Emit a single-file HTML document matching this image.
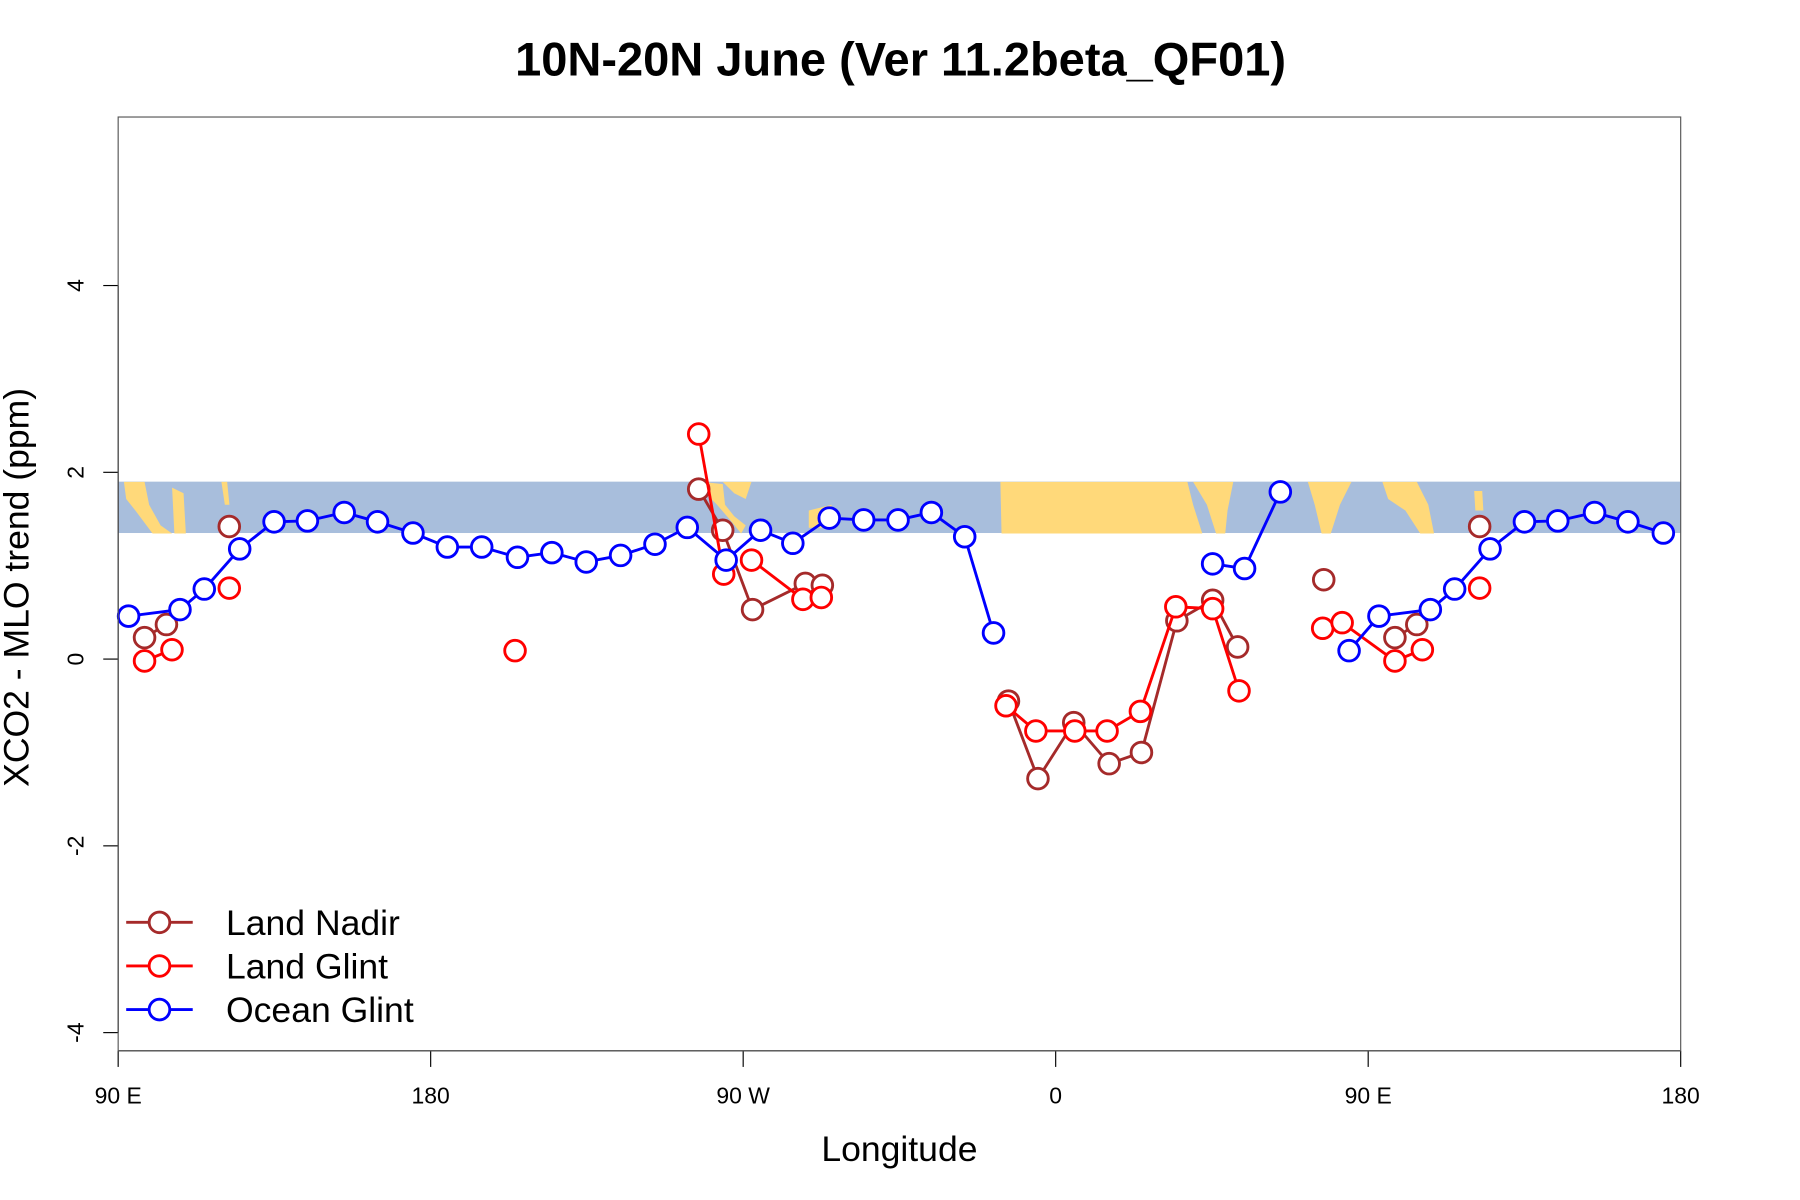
<!DOCTYPE html>
<html><head><meta charset="utf-8"><style>
html,body{margin:0;padding:0;background:#fff;}
svg{display:block;font-family:"Liberation Sans",sans-serif;}
</style></head><body>
<svg id="chart" width="1800" height="1200" viewBox="0 0 1569 1046" preserveAspectRatio="none" xmlns="http://www.w3.org/2000/svg">
<rect width="1569" height="1046" fill="#fff"/>
<text x="785" y="66" font-size="41" font-weight="bold" text-anchor="middle">10N-20N June (Ver 11.2beta_QF01)</text>
<g id="band"></g>
<g id="axes"></g>
<g id="series"></g>
<rect x="103" y="102" width="1362" height="814" fill="none" stroke="#555" stroke-width="1"/>
<text x="784" y="1012" font-size="31" text-anchor="middle">Longitude</text>
<text transform="translate(25,512) rotate(-90)" font-size="31" text-anchor="middle">XCO2 - MLO trend (ppm)</text>
<g>
<g><line x1="110" x2="168" y1="804" y2="804" stroke="#a52a2a" stroke-width="2.5"/><circle cx="139" cy="804" r="9" fill="#fff" stroke="#a52a2a" stroke-width="2.5"/><text x="197" y="815" font-size="31">Land Nadir</text></g>
<g><line x1="110" x2="168" y1="842" y2="842" stroke="#ff0000" stroke-width="2.5"/><circle cx="139" cy="842" r="9" fill="#fff" stroke="#ff0000" stroke-width="2.5"/><text x="197" y="853" font-size="31">Land Glint</text></g>
<g><line x1="110" x2="168" y1="880" y2="880" stroke="#0000ff" stroke-width="2.5"/><circle cx="139" cy="880" r="9" fill="#fff" stroke="#0000ff" stroke-width="2.5"/><text x="197" y="891" font-size="31">Ocean Glint</text></g>
</g>
</svg>
<script>
const xTicks = [90, 180, 270, 360, 450, 540];
const xTickLabels = ["90 E", "180", "90 W", "0", "90 E", "180"];
const yTicks = [-4, -2, 0, 2, 4];
const yTickLabels = ["-4", "-2", "0", "2", "4"];
const oceanLon = [93.0,107.8,114.8,125.0,134.9,144.5,155.1,164.7,174.9,184.8,194.7,205.0,214.9,224.8,234.7,244.6,253.9,265.1,275.0,284.3,294.8,304.7,314.6,324.2,333.8,342.1,null,405.2,414.4,424.7,null,444.5,453.1,467.9,474.9,485.1,495.0,504.6,515.2,524.8,535.0];
const oceanVal = [0.46,0.53,0.75,1.18,1.47,1.48,1.57,1.47,1.35,1.20,1.20,1.09,1.14,1.04,1.11,1.23,1.41,1.06,1.38,1.24,1.51,1.49,1.49,1.57,1.31,0.28,null,1.02,0.97,1.79,null,0.09,0.46,0.53,0.75,1.18,1.47,1.48,1.57,1.47,1.35];
const nadirLon = [97.6,103.9,null,122.0,null,257.2,264.1,272.7,287.9,292.8,null,346.4,354.9,365.2,375.4,384.7,394.9,405.2,412.4,null,437.2,null,457.7,464.0,null,482.1];
const nadirVal = [0.23,0.37,null,1.42,null,1.82,1.38,0.53,0.81,0.79,null,-0.45,-1.28,-0.68,-1.12,-1.0,0.41,0.63,0.13,null,0.85,null,0.23,0.37,null,1.42];
const glintLon = [97.6,105.5,null,122.0,null,204.3,null,257.2,264.4,null,272.4,287.2,292.5,null,345.7,354.3,365.5,374.8,384.4,394.6,405.2,412.8,null,436.9,442.5,457.7,465.6,null,482.1];
const glintVal = [-0.02,0.10,null,0.76,null,0.09,null,2.41,0.91,null,1.06,0.64,0.66,null,-0.5,-0.77,-0.77,-0.77,-0.56,0.56,0.54,-0.34,null,0.33,0.39,-0.02,0.10,null,0.76];

const NS = "http://www.w3.org/2000/svg";
const X = v => 103 + (v - 90) * (1362 / 450);
const Y = v => 574.5 - v * 81.4;
function mk(tag, attrs, parent) { const e = document.createElementNS(NS, tag); for (const k in attrs) e.setAttribute(k, attrs[k]); parent.appendChild(e); return e; }

const band = document.getElementById('band');
const bTop = Y(1.9), bBot = Y(1.35);
mk('rect', {x:103, y:bTop, width:1362, height:bBot-bTop, fill:'#a8bedc'}, band);
const land = [
 [[108,420],[126,420],[130,440],[140,458],[150,465],[133,465],[118,445],[110,435]],
 [[150,425],[160,430],[162,465],[152,465]],
 [[193,420],[198,420],[200,440],[196,440]],
 [[612,420],[630,422],[632,440],[640,450],[650,458],[646,465],[638,455],[625,440],[615,430]],
 [[630,420],[655,420],[650,435],[640,430]],
 [[705,445],[725,440],[722,460],[705,460]],
 [[872,420],[1035,420],[1040,440],[1048,465],[873,465]],
 [[1040,420],[1075,420],[1070,445],[1068,465],[1060,465],[1052,440]],
 [[1140,420],[1178,420],[1168,440],[1160,465],[1152,465],[1146,440]],
 [[1205,420],[1235,420],[1245,440],[1250,465],[1238,465],[1225,445],[1210,435]],
 [[1285,428],[1292,428],[1293,445],[1286,445]]
];
land.forEach(p => { const e = mk('polygon', {points:p.map(q=>q.join(',')).join(' '), fill:'#ffd97a'}, band);
 
  });

const ax = document.getElementById('axes');
mk('line', {x1:103, x2:103, y1:Y(4), y2:Y(-4), stroke:'#000', 'stroke-width':1}, ax);
yTicks.forEach((t,i) => {
 mk('line', {x1:90, x2:103, y1:Y(t), y2:Y(t), stroke:'#000', 'stroke-width':1}, ax);
 const tx = mk('text', {transform:`translate(73,${Y(t)}) rotate(-90)`, 'font-size':20, 'text-anchor':'middle'}, ax);
 tx.textContent = yTickLabels[i];
 
 
});
mk('line', {x1:X(90), x2:X(540), y1:916, y2:916, stroke:'#000', 'stroke-width':1}, ax);
xTicks.forEach((t,i) => {
 mk('line', {x1:X(t), x2:X(t), y1:916, y2:930, stroke:'#000', 'stroke-width':1}, ax);
 const tx = mk('text', {x:X(t), y:962, 'font-size':20, 'text-anchor':'middle'}, ax);
 tx.textContent = xTickLabels[i];
 
 
});

const sg = document.getElementById('series');
function drawSeries(lons, vals, color, name) {
 const g = mk('g', {}, sg);
 
 
 let seg = [];
 const flush = () => { if (seg.length > 1) mk('polyline', {points:seg.join(' '), fill:'none', stroke:color, 'stroke-width':2.5}, g); seg = []; };
 for (let i = 0; i < lons.length; i++) {
  if (lons[i] === null || vals[i] === null) { flush(); continue; }
  seg.push(X(lons[i]) + ',' + Y(vals[i]));
 }
 flush();
 for (let i = 0; i < lons.length; i++) {
  if (lons[i] === null || vals[i] === null) continue;
  const c = mk('circle', {cx:X(lons[i]), cy:Y(vals[i]), r:9, fill:'#fff', stroke:color, 'stroke-width':2.5}, g);
  
  
 }
}
drawSeries(nadirLon, nadirVal, '#a52a2a', 'land-nadir-series');
drawSeries(glintLon, glintVal, '#ff0000', 'land-glint-series');
drawSeries(oceanLon, oceanVal, '#0000ff', 'ocean-glint-series');
</script>
</body></html>
